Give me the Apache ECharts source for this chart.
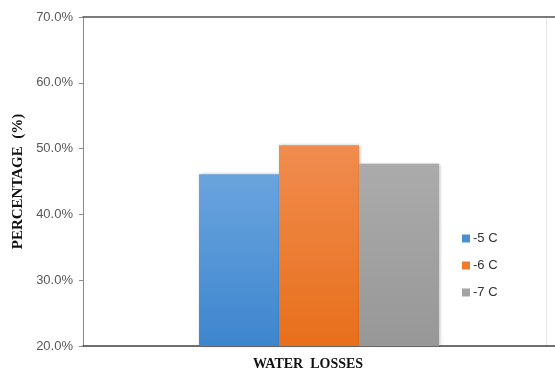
<!DOCTYPE html>
<html>
<head>
<meta charset="utf-8">
<script src="https://cdn.jsdelivr.net/npm/echarts@6/dist/echarts.min.js"></script>
<style>
  html, body { margin: 0; padding: 0; background: #fff; }
  #chart { width: 555px; height: 371px; }
</style>
</head>
<body>
<div id="chart"></div>
<script>
// Chart data
const categories = ['WATER  LOSSES'];
const seriesNames = ['-5 C', '-6 C', '-7 C'];
const valuesMinus5 = [46.1];
const valuesMinus6 = [50.5];
const valuesMinus7 = [47.7];
const yTicks = [20, 30, 40, 50, 60, 70];

const chart = echarts.init(document.getElementById('chart'), null, { renderer: 'canvas' });

function grad(top, bottom) {
  return new echarts.graphic.LinearGradient(0, 0, 0, 1, [
    { offset: 0, color: top },
    { offset: 1, color: bottom }
  ]);
}

const styles = [
  { color: grad('#6aa4de', '#3d86cf'), legend: '#4a8fd4' },
  { color: grad('#f08c4e', '#e86f1b'), legend: '#ee7a2e' },
  { color: grad('#ababab', '#979797'), legend: '#a3a3a3' }
];
const seriesValues = [valuesMinus5, valuesMinus6, valuesMinus7];

chart.setOption({
  animation: false,
  grid: { left: 83, right: -7, top: 17, bottom: 25, containLabel: false },
  legend: {
    orient: 'vertical',
    left: 457,
    top: 227,
    itemWidth: 8,
    itemHeight: 8,
    itemGap: 14,
    icon: 'rect',
    textStyle: { fontFamily: 'Liberation Sans', fontSize: 13, color: '#333', padding: [0, 0, 0, -2] },
    data: seriesNames.map((n, i) => ({ name: n, itemStyle: { color: styles[i].legend } }))
  },
  xAxis: [
    {
      type: 'category',
      data: categories,
      axisLine: { show: true, lineStyle: { color: '#404040', width: 1.5 } },
      axisTick: { show: false },
      axisLabel: {
        margin: 11,
        fontFamily: 'Liberation Serif',
        fontWeight: 'bold',
        fontSize: 14,
        color: '#111',
        padding: [0, 22, 0, 0]
      }
    },
    {
      type: 'category',
      position: 'top',
      data: categories,
      axisLine: { show: true, lineStyle: { color: '#505050', width: 1.5 } },
      axisTick: { show: false },
      axisLabel: { show: false }
    }
  ],
  yAxis: [
    {
      type: 'value',
      min: yTicks[0],
      max: yTicks[yTicks.length - 1],
      interval: 10,
      name: 'PERCENTAGE  (%)',
      nameLocation: 'middle',
      nameGap: 52,
      nameTextStyle: {
        fontFamily: 'Liberation Serif',
        fontWeight: 'bold',
        fontSize: 15,
        color: '#111'
      },
      axisLine: { show: true, lineStyle: { color: '#8c8c8c', width: 1 } },
      axisTick: { show: true, length: 4, lineStyle: { color: '#8c8c8c' } },
      splitLine: { show: false },
      axisLabel: {
        margin: 10,
        fontFamily: 'Liberation Sans',
        fontSize: 13,
        color: '#595959',
        formatter: v => v.toFixed(1) + '%'
      }
    },
    {
      type: 'value',
      position: 'right',
      offset: -9,
      min: yTicks[0],
      max: yTicks[yTicks.length - 1],
      axisLine: { show: true, lineStyle: { color: '#e6e6e6', width: 1 } },
      axisTick: { show: false },
      axisLabel: { show: false },
      splitLine: { show: false }
    }
  ],
  series: seriesNames.map((name, i) => ({
    name: name,
    type: 'bar',
    xAxisIndex: 0,
    yAxisIndex: 0,
    data: seriesValues[i],
    barWidth: 80,
    barGap: '0%',
    itemStyle: {
      color: styles[i].color,
      shadowColor: 'rgba(0,0,0,0.25)',
      shadowBlur: 3,
      shadowOffsetX: 1
    }
  }))
});
</script>
</body>
</html>
